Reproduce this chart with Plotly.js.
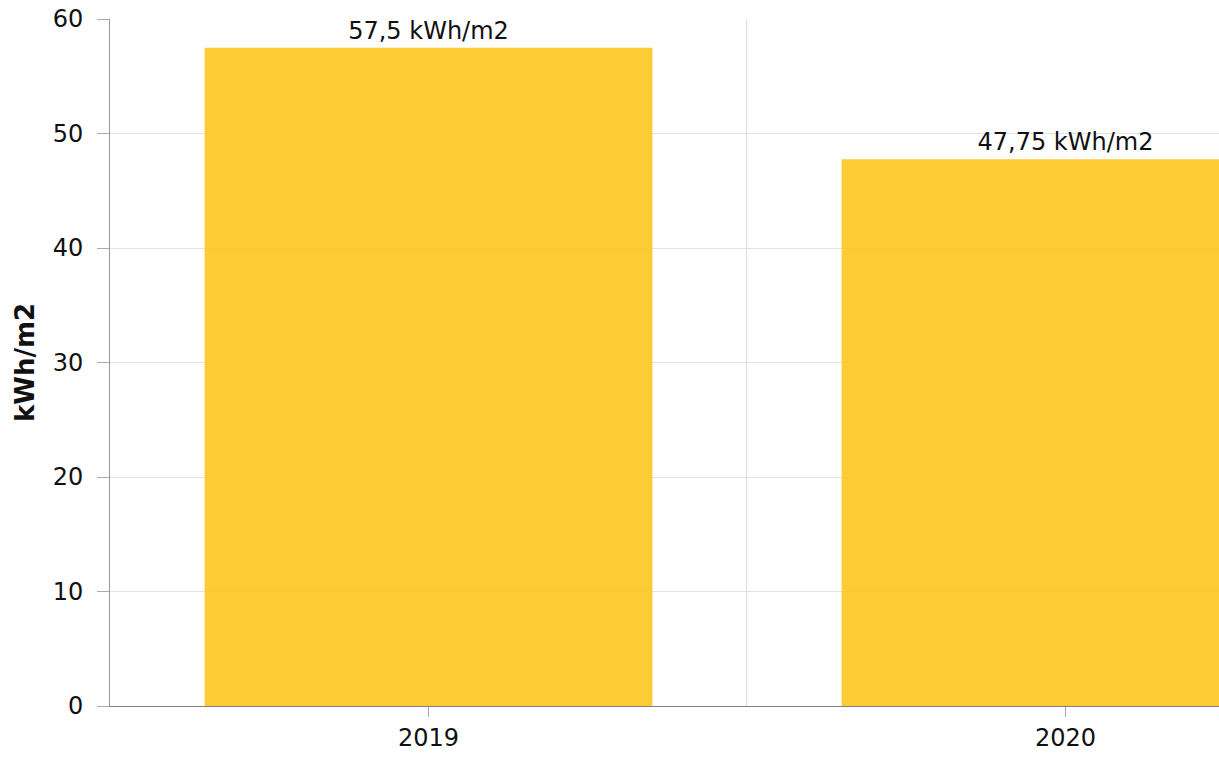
<!DOCTYPE html>
<html>
<head>
<meta charset="utf-8">
<script src="https://cdn.plot.ly/plotly-3.0.1.min.js"></script>
<style>html,body{margin:0;padding:0;background:#fff}#chart{width:1219px;height:760px}</style>
</head>
<body>
<div id="chart"></div>
<script>
const categories = ['2019', '2020'];
const values = [57.5, 47.75];
const labels = ['57,5 kWh/m2', '47,75 kWh/m2'];
const yTitle = 'kWh/m2';

const font = {family: 'DejaVu Sans, Verdana, sans-serif', size: 24, color: '#111'};

const traces = [
  {
    type: 'bar', x: categories, y: values, width: 0.703,
    marker: {color: 'rgba(253,197,30,0.9)'},
    text: labels, textposition: 'outside', textfont: font,
    textangle: 0, constraintext: 'none',
    hoverinfo: 'x+y', cliponaxis: false
  },
  {
    type: 'scatter', mode: 'markers', x: categories, y: values, xaxis: 'x2',
    marker: {opacity: 0}, hoverinfo: 'skip', showlegend: false
  }
];

const layout = {
  width: 1219, height: 760,
  margin: {l: 110, r: 0, t: 19, b: 54},
  paper_bgcolor: '#fff', plot_bgcolor: '#fff',
  font: font, showlegend: false,
  xaxis: {
    type: 'category', categoryarray: categories, range: [-0.5, 1.241],
    tickson: 'boundaries', showgrid: true, gridcolor: '#dedede', gridwidth: 1,
    ticks: '', showticklabels: false, showline: true, linecolor: '#808080', linewidth: 1,
    zeroline: false, fixedrange: true
  },
  xaxis2: {
    type: 'category', categoryarray: categories, range: [-0.5, 1.241],
    overlaying: 'x', anchor: 'y', side: 'bottom',
    showgrid: false, showline: false, zeroline: false,
    ticks: 'outside', ticklen: 10, tickcolor: '#aaa', tickwidth: 1,
    showticklabels: true, tickfont: font, fixedrange: true
  },
  yaxis: {
    range: [0, 60], dtick: 10, tick0: 0,
    showgrid: true, gridcolor: '#e3e3e3', gridwidth: 1,
    ticks: 'outside', ticklen: 12, tickcolor: '#aaa', tickwidth: 1,
    ticklabelstandoff: 9,
    showline: true, linecolor: '#999', linewidth: 1, zeroline: false,
    tickfont: font,
    title: {text: '<b>' + yTitle + '</b>', font: {family: 'DejaVu Sans, Verdana, sans-serif', size: 26, color: '#111'}, standoff: 10},
    fixedrange: true
  }
};

Plotly.newPlot('chart', traces, layout, {displayModeBar: false, responsive: false});
</script>
</body>
</html>
